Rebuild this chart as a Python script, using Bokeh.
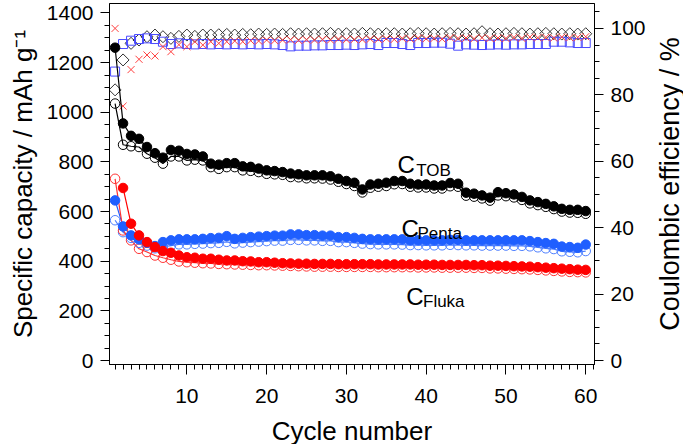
import math
import numpy as np
from bokeh.plotting import figure
from bokeh.layouts import row
from bokeh.models import Range1d, LinearAxis, Label, SingleIntervalTicker
from bokeh.core.properties import value
from bokeh.embed import file_html
from bokeh.resources import INLINE

nan = float("nan")
cycles = list(range(1, 61))

tob_dis = [1260, 955, 905, 893, 860, 835, 817, 848, 845, 832,
           830, 822, 793, 789, 795, 795, 782, 780, 773, 766,
           763, 759, 753, 750, 746, 746, 746, 742, 732, 723,
           716, 689, 709, 712, 716, 723, 723, 712, 709, 709,
           705, 705, 715, 712, 676, 672, 665, 656, 678, 674,
           669, 659, 645, 638, 631, 621, 611, 607, 607, 602]
tob_chg = [1035, 869, 863, 860, 833, 817, 793, 822, 822, 806,
           809, 806, 779, 772, 779, 779, 766, 764, 759, 752,
           750, 748, 739, 738, 734, 734, 733, 729, 720, 711,
           703, 677, 696, 700, 703, 710, 711, 700, 697, 697,
           693, 693, 702, 700, 664, 660, 653, 644, 665, 662,
           657, 647, 633, 626, 619, 610, 600, 596, 595, 591]
penta_dis = [645, 540, 504, 488, 474, 461, 477, 484, 488, 488,
             488, 490, 493, 494, 501, 490, 494, 497, 499, 501,
             503, 503, 508, 508, 505, 505, 503, 503, 497, 497,
             494, 490, 488, 488, 488, 488, 488, 484, 484, 484,
             484, 484, 486, 486, 484, 484, 484, 484, 484, 484,
             484, 484, 481, 477, 473, 470, 459, 457, 454, 467]
penta_chg = [565, 517, 494, 474, 463, 452, 458, 463, 468, 468,
             470, 471, 473, 474, 478, 472, 475, 477, 479, 481,
             483, 483, 486, 486, 484, 484, 482, 482, 477, 477,
             474, 471, 469, 468, 468, 468, 467, 465, 465, 464,
             464, 464, 466, 465, 464, 464, 463, 463, 463, 463,
             462, 462, 460, 456, 452, 449, 440, 438, 436, 441]
fluka_dis = [nan, 695, 551, 504, 477, 457, 441, 434, 423, 416,
             414, 410, 410, 406, 403, 403, 400, 399, 396, 396,
             394, 392, 391, 390, 390, 389, 389, 389, 388, 388,
             388, 388, 388, 387, 387, 387, 387, 387, 386, 386,
             386, 385, 385, 385, 385, 384, 384, 382, 382, 381,
             380, 379, 378, 376, 374, 372, 370, 368, 366, 365]
fluka_chg = [732, 524, 484, 450, 437, 423, 414, 406, 399, 396,
             394, 392, 391, 389, 388, 387, 386, 385, 384, 384,
             383, 382, 381, 380, 379, 378, 378, 378, 377, 377,
             377, 377, 377, 376, 376, 376, 376, 376, 375, 375,
             375, 374, 374, 374, 374, 373, 373, 371, 371, 370,
             369, 368, 367, 365, 363, 361, 359, 357, 356, 355]

ce_tob = [81.5, 90.5, 95.5, 96.5, 97.5, 98.0, 97.5, 97.0, 97.6, 98.0,
          97.6, 98.0, 98.0, 98.1, 98.2, 98.0, 98.2, 98.1, 98.3, 98.2,
          98.3, 98.2, 98.4, 98.3, 98.4, 98.3, 98.4, 98.5, 98.3, 98.4,
          98.3, 98.5, 98.4, 98.3, 98.4, 98.4, 98.3, 98.4, 98.5, 98.4,
          98.3, 98.4, 98.5, 98.4, 98.3, 98.4, 99.0, 98.4, 98.3, 98.4,
          98.5, 98.4, 98.3, 98.4, 98.5, 98.4, 98.3, 98.4, 98.3, 98.4]
ce_penta = [87.0, 95.3, 96.3, 96.8, 97.0, 96.8, 96.0, 95.3, 95.5, 95.3,
            95.2, 95.3, 95.2, 95.3, 95.2, 95.3, 95.2, 95.3, 95.2, 95.3,
            95.2, 95.0, 94.6, 94.8, 94.8, 94.9, 94.9, 95.0, 95.0, 95.1,
            95.0, 95.2, 95.3, 95.0, 95.6, 95.6, 95.3, 95.0, 95.6, 95.6,
            95.7, 95.7, 95.4, 94.8, 95.2, 95.1, 95.0, 95.1, 95.2, 95.1,
            95.2, 95.2, 95.3, 95.3, 95.3, 96.0, 96.0, 95.8, 95.6, 95.6]
ce_fluka = [100.0, 76.6, 87.6, 90.7, 92.0, 91.7, 94.5, 93.0, 95.1, 94.5,
            96.0, 95.0, 96.0, 95.5, 96.0, 96.2, 96.0, 96.3, 96.2, 96.5,
            96.3, 96.5, 96.6, 96.4, 96.6, 96.5, 96.7, 96.5, 96.8, 96.6,
            96.7, 96.6, 96.8, 96.7, 96.9, 96.7, 97.0, 96.8, 97.1, 96.9,
            97.0, 96.8, 97.2, 97.0, 97.1, 96.9, 97.2, 97.0, 97.1, 97.0,
            97.3, 97.0, 97.4, 97.2, 97.3, 97.1, 97.4, 97.2, 97.3, 97.5]

right_title = "Coulombic efficiency / %"

FONT = "Liberation Sans"

p = figure(frame_width=485, frame_height=361,
           x_range=Range1d(0.3, 61.1), y_range=Range1d(-16, 1438),
           output_backend="svg", toolbar_location=None,
           min_border_left=109, min_border_right=61,
           min_border_top=3, min_border_bottom=74,
           background_fill_color="white", border_fill_color="white")
p.extra_y_ranges = {"ce": Range1d(-1.19, 107.5)}
p.xgrid.visible = False
p.ygrid.visible = False
p.outline_line_color = "black"
p.outline_line_width = 1
p.outline_line_alpha = 1

x = np.array(cycles, dtype=float)

# Coulombic efficiency markers (right axis)
p.scatter(x, np.array(ce_tob), marker="square", angle=math.pi / 4, size=8.5,
          fill_color=None, line_color="#333333", line_width=1, y_range_name="ce")
p.scatter(x, np.array(ce_penta), marker="square", size=9,
          fill_color=None, line_color="#4a4aff", line_width=1, y_range_name="ce")
p.scatter(x, np.array(ce_fluka), marker="x", size=10,
          line_color="#ff4040", line_width=1, y_range_name="ce")

series = [
    (tob_chg, "#000000", "open"), (tob_dis, "#000000", "filled"),
    (penta_chg, "#4d7fff", "open"), (penta_dis, "#1f5fff", "filled"),
    (fluka_chg, "#ff3333", "open"), (fluka_dis, "#ff0000", "filled"),
]
for vals, col, kind in series:
    y = np.array(vals, dtype=float)
    p.line(x, y, line_color=col, line_width=1.2)
for vals, col, kind in series:
    y = np.array(vals, dtype=float)
    if kind == "open":
        p.scatter(x, y, marker="circle", size=9.5, fill_color="white", fill_alpha=0.0,
                  line_color=col, line_width=1)
for vals, col, kind in series:
    y = np.array(vals, dtype=float)
    if kind == "filled":
        p.scatter(x, y, marker="circle", size=9.5, fill_color=col,
                  line_color=col, line_width=1)

def style_axis(ax):
    ax.axis_line_color = "black"
    ax.axis_line_width = 1
    ax.major_tick_line_color = "black"
    ax.minor_tick_line_color = "black"
    ax.major_tick_in = 0
    ax.major_tick_out = 9
    ax.minor_tick_in = 0
    ax.minor_tick_out = 5
    ax.major_label_text_font = FONT
    ax.major_label_text_font_size = "21px"
    ax.major_label_text_color = "black"
    ax.axis_label_text_font = FONT
    ax.axis_label_text_font_size = "26px"
    ax.axis_label_text_font_style = "normal"
    ax.axis_label_text_color = "black"
    ax.major_label_standoff = 7
    ax.axis_label_standoff = 6

xa = p.xaxis[0]
xa.ticker = SingleIntervalTicker(interval=10, num_minor_ticks=10)
xa.axis_label = "Cycle number"
style_axis(xa)
xa.major_tick_out = 10
xa.major_label_standoff = 14
xa.axis_label_standoff = 10

ya = p.yaxis[0]
ya.ticker = SingleIntervalTicker(interval=200, num_minor_ticks=4)
ya.axis_label = "Specific capacity / mAh g\u207b\u00b9"
style_axis(ya)

ra = LinearAxis(y_range_name="ce",
                ticker=SingleIntervalTicker(interval=20, num_minor_ticks=4))
style_axis(ra)
p.add_layout(ra, "right")

labels = [
    (36.4, 790, "C", "24px"), (38.75, 766, "TOB", "17px"),
    (36.9, 532, "C", "24px"), (38.9, 512, "Penta", "17px"),
    (37.5, 258, "C", "24px"), (39.6, 238, "Fluka", "17px"),
]
for lx, ly, txt, fs in labels:
    p.add_layout(Label(x=lx, y=ly, text=txt, text_font=FONT, text_font_size=fs,
                       text_color="black", text_baseline="alphabetic", text_align="left"))

# narrow companion figure holding the right-axis title (reads bottom-to-top)
p2 = figure(frame_width=28, frame_height=361,
            x_range=Range1d(0, 1), y_range=Range1d(0, 1),
            output_backend="svg", toolbar_location=None,
            x_axis_location=None, y_axis_location=None,
            min_border_left=0, min_border_right=0,
            min_border_top=3, min_border_bottom=74,
            background_fill_color="white", border_fill_color="white")
p2.grid.visible = False
p2.outline_line_color = None
p2.text(x=[0.5], y=[0.5], text=[right_title], angle=math.pi / 2,
        text_align="center", text_baseline="middle",
        text_font=value(FONT), text_font_size=value("27px"), text_color="black")

layout = row(p, p2, spacing=0)
open("out.html", "w").write(file_html(layout, INLINE))
